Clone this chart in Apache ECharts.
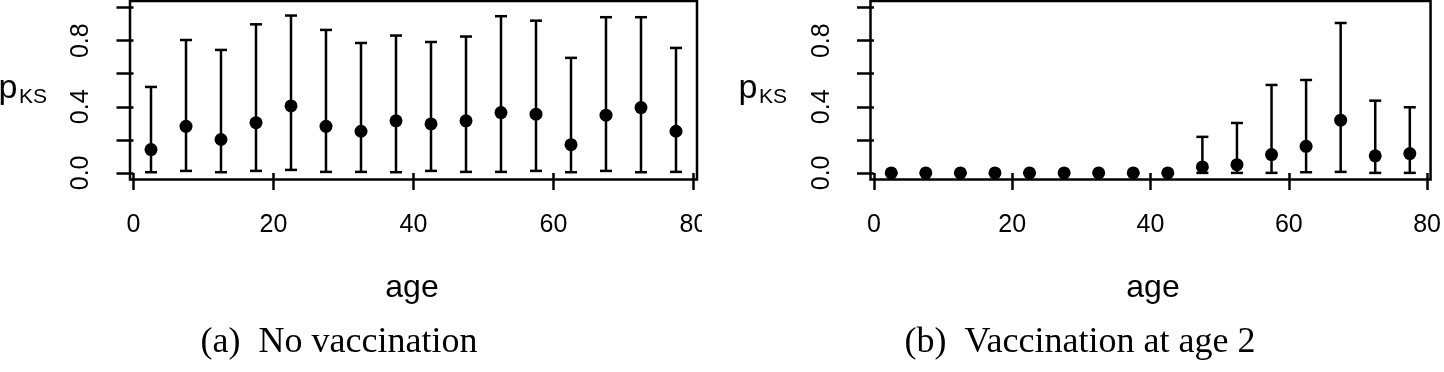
<!DOCTYPE html>
<html>
<head>
<meta charset="utf-8">
<script src="https://cdn.jsdelivr.net/npm/echarts@6/dist/echarts.min.js"></script>
<style>
html, body { margin: 0; padding: 0; background: #fff; }
#chart { width: 1444px; height: 372px; }
</style>
</head>
<body>
<div id="chart"></div>
<script>
// age classes (midpoints)
var ages = [2.5, 7.5, 12.5, 17.5, 22.5, 27.5, 32.5, 37.5, 42.5, 47.5, 52.5, 57.5, 62.5, 67.5, 72.5, 77.5];

// (a) no vaccination
var noVacMean = [0.141, 0.282, 0.202, 0.304, 0.405, 0.282, 0.252, 0.315, 0.296, 0.315, 0.365, 0.355, 0.171, 0.349, 0.395, 0.252];
var noVacLow  = [0.004, 0.012, 0.004, 0.012, 0.018, 0.006, 0.006, 0.004, 0.012, 0.006, 0.006, 0.012, 0.004, 0.012, 0.004, 0.006];
var noVacHigh = [0.520, 0.804, 0.744, 0.899, 0.952, 0.865, 0.786, 0.831, 0.792, 0.825, 0.948, 0.921, 0.696, 0.942, 0.942, 0.756];

// (b) vaccination at age 2
var vacMean = [0, 0, 0, 0, 0, 0, 0, 0, 0, 0.036, 0.050, 0.111, 0.161, 0.319, 0.103, 0.117];
var vacLow  = [0, 0, 0, 0, 0, 0, 0, 0, 0, 0, 0, 0, 0.004, 0.006, 0, 0];
var vacHigh = [0, 0, 0, 0, 0, 0, 0, 0, 0, 0.218, 0.302, 0.532, 0.562, 0.907, 0.437, 0.397];

var xTicks = [0, 20, 40, 60, 80];
var yTicks = [0, 0.2, 0.4, 0.6, 0.8, 1.0];
var yLabels = [0, 0.4, 0.8];

var chart = echarts.init(document.getElementById('chart'));

function errData(low, high) {
    return ages.map(function (a, i) { return [a, low[i], high[i]]; });
}
function meanData(m) {
    return ages.map(function (a, i) { return [a, m[i]]; });
}

function renderBar(params, api) {
    var x = api.value(0);
    var lo = api.coord([x, api.value(1)]);
    var hi = api.coord([x, api.value(2)]);
    var half = 6;
    var st = { stroke: '#000', lineWidth: 2.5, fill: null };
    return {
        type: 'group',
        children: [
            { type: 'line', shape: { x1: lo[0], y1: lo[1], x2: hi[0], y2: hi[1] }, style: st },
            { type: 'line', shape: { x1: lo[0] - half, y1: lo[1], x2: lo[0] + half, y2: lo[1] }, style: st },
            { type: 'line', shape: { x1: hi[0] - half, y1: hi[1], x2: hi[0] + half, y2: hi[1] }, style: st }
        ]
    };
}

function xAx(i) {
    return {
        gridIndex: i, type: 'value', min: -0.5, max: 80.5,
        axisLine: { show: false }, splitLine: { show: false },
        axisTick: { customValues: xTicks, length: 17, lineStyle: { color: '#000', width: 2.5 } },
        axisLabel: { customValues: xTicks, margin: 33, color: '#000', fontSize: 25, fontFamily: 'Liberation Sans' }
    };
}
function yAx(i) {
    return {
        gridIndex: i, type: 'value', min: -0.04, max: 1.04,
        axisLine: { show: false }, splitLine: { show: false },
        axisTick: { customValues: yTicks, length: 17, lineStyle: { color: '#000', width: 2.5 } },
        axisLabel: {
            customValues: yLabels, rotate: 90, margin: 36, color: '#000', fontSize: 25, fontFamily: 'Liberation Sans',
            formatter: function (v) { return v.toFixed(1); }
        }
    };
}

function txt(x, y, s, font) {
    return { type: 'text', x: x, y: y, z: 10,
        style: { text: s, font: font, fill: '#000', align: 'center', verticalAlign: 'middle' } };
}

var sans = 'Liberation Sans';
var serif = 'Liberation Serif';

var option = {
    animation: false,
    backgroundColor: '#fff',
    grid: [
        { left: 130, top: 1, width: 567, height: 178.5, show: true, borderColor: '#000', borderWidth: 2.5 },
        { left: 870.5, top: 1, width: 567, height: 178.5, show: true, borderColor: '#000', borderWidth: 2.5 }
    ],
    xAxis: [xAx(0), xAx(1)],
    yAxis: [yAx(0), yAx(1)],
    series: [
        { type: 'custom', xAxisIndex: 0, yAxisIndex: 0, renderItem: renderBar, data: errData(noVacLow, noVacHigh) },
        { type: 'scatter', xAxisIndex: 0, yAxisIndex: 0, symbol: 'circle', symbolSize: 13, z: 3,
          itemStyle: { color: '#000', opacity: 1 }, data: meanData(noVacMean) },
        { type: 'custom', xAxisIndex: 1, yAxisIndex: 1, renderItem: renderBar, data: errData(vacLow, vacHigh) },
        { type: 'scatter', xAxisIndex: 1, yAxisIndex: 1, symbol: 'circle', symbolSize: 13, z: 3,
          itemStyle: { color: '#000', opacity: 1 }, data: meanData(vacMean) }
    ],
    graphic: [
        // clip of the left "80" like the original figure
        { type: 'rect', z: 20, shape: { x: 702, y: 200, width: 18, height: 50 }, style: { fill: '#fff' } },
        // y-axis titles
        txt(8, 89, 'p', '34px ' + sans),
        txt(33, 97, 'KS', '21px ' + sans),
        txt(748, 89, 'p', '34px ' + sans),
        txt(773, 97, 'KS', '21px ' + sans),
        // x-axis titles
        txt(412, 288, 'age', '32px ' + sans),
        txt(1153, 288, 'age', '32px ' + sans),
        // sub captions
        txt(339, 343, '(a)  No vaccination', '36px ' + serif),
        txt(1080, 343, '(b)  Vaccination at age 2', '36px ' + serif)
    ]
};

chart.setOption(option);
</script>
</body>
</html>
